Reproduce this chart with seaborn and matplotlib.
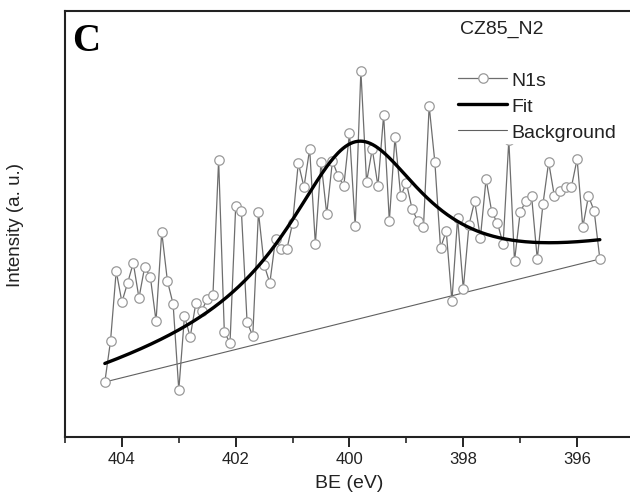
import numpy as np
import matplotlib
matplotlib.use("Agg")
import matplotlib.pyplot as plt
import seaborn as sns
from matplotlib.ticker import MultipleLocator

sns.set_theme(style="white")
plt.rcParams['font.family'] = ['Liberation Sans', 'DejaVu Sans']

# ---- data (binding energy grid, eV) ----
be = [404.3, 404.2, 404.1, 404.0, 403.9, 403.8, 403.7, 403.6, 403.5, 403.4,
      403.3, 403.2, 403.1, 403.0, 402.9, 402.8, 402.7, 402.6, 402.5, 402.4,
      402.3, 402.2, 402.1, 402.0, 401.9, 401.8, 401.7, 401.6, 401.5, 401.4,
      401.3, 401.2, 401.1, 401.0, 400.9, 400.8, 400.7, 400.6, 400.5, 400.4,
      400.3, 400.2, 400.1, 400.0, 399.9, 399.8, 399.7, 399.6, 399.5, 399.4,
      399.3, 399.2, 399.1, 399.0, 398.9, 398.8, 398.7, 398.6, 398.5, 398.4,
      398.3, 398.2, 398.1, 398.0, 397.9, 397.8, 397.7, 397.6, 397.5, 397.4,
      397.3, 397.2, 397.1, 397.0, 396.9, 396.8, 396.7, 396.6, 396.5, 396.4,
      396.3, 396.2, 396.1, 396.0, 395.9, 395.8, 395.7, 395.6]

# N1s intensity (arbitrary units)
n1s = [55, 96, 166, 135, 154, 174, 139, 170, 160, 116,
       205, 156, 133, 47, 121, 100, 134, 126, 138, 142,
       277, 105, 94, 231, 226, 115, 101, 225, 172, 154,
       198, 188, 188, 214, 274, 250, 288, 193, 275, 223,
       276, 261, 251, 304, 211, 366, 255, 288, 251, 322,
       216, 300, 241, 254, 228, 216, 210, 331, 275, 189,
       206, 136, 219, 148, 212, 236, 199, 258, 225, 214,
       193, 297, 176, 225, 236, 241, 178, 233, 275, 241,
       246, 250, 250, 278, 210, 241, 226, 178]

# Linear background end points
bg_x = [404.3, 395.6]
bg_y = [55, 178]

# Fitted N1s component (Lorentzian) parameters
fit_center = 399.9
fit_fwhm = 3.0
fit_height = 178

# ---- figure ----
fig = plt.figure(figsize=(6.3, 5.02), dpi=100)
ax = fig.add_axes([65/630, 64/502, 569/630, 426/502])

# data
sns.lineplot(x=be, y=n1s, ax=ax, sort=False, color='#6e6e6e', lw=0.9,
             marker='o', markersize=6.8, markerfacecolor='white',
             markeredgecolor='#9a9a9a', markeredgewidth=0.9, label='N1s',
             zorder=2)

# fit = background + Lorentzian
fx = np.linspace(bg_x[0], bg_x[1], 400)
fbg = np.interp(fx, bg_x[::-1], bg_y[::-1])
fy = fbg + fit_height / (1 + ((fx - fit_center) / (fit_fwhm / 2)) ** 2)
sns.lineplot(x=fx, y=fy, ax=ax, sort=False, color='black', lw=2.4,
             label='Fit', zorder=3)

# background
sns.lineplot(x=bg_x, y=bg_y, ax=ax, sort=False, color='#606060', lw=0.8,
             label='Background', zorder=1)

ax.set_xlim(405, 395)
ax.set_ylim(0, 426)
ax.xaxis.set_major_locator(MultipleLocator(2))
ax.xaxis.set_minor_locator(MultipleLocator(1))
ax.set_xticks([404, 402, 400, 398, 396])
ax.tick_params(axis='x', which='major', direction='out', length=7, width=1.2,
               labelsize=12, pad=3, bottom=True, colors='black')
ax.tick_params(axis='x', which='minor', direction='out', length=4, width=1.2,
               bottom=True)
ax.tick_params(axis='x', labelcolor='#222222')
ax.set_yticks([])

for s in ['left', 'bottom', 'top', 'right']:
    ax.spines[s].set_color('#222222')
    ax.spines[s].set_linewidth(1.5)

ax.set_xlabel('BE (eV)', fontsize=14, color='#222222', labelpad=6)
ax.set_ylabel('Intensity (a. u.)', fontsize=13.5, color='#222222')
ax.yaxis.set_label_coords(-0.072, 0.5)

ax.text(0.012, 0.975, 'C', transform=ax.transAxes, ha='left', va='top',
        fontsize=28, fontweight='bold', family='Liberation Serif', color='black')
ax.text(0.694, 0.958, 'CZ85_N2', transform=ax.transAxes, ha='left', va='center',
        fontsize=14, color='#222222')

leg = ax.legend(loc='upper left', bbox_to_anchor=(0.688, 0.863), frameon=True,
                facecolor='white', edgecolor='white', framealpha=1,
                fontsize=14, handlelength=2.5, handletextpad=0.2,
                labelspacing=0.43, borderpad=0.1, borderaxespad=0)
leg.set_zorder(5)
for t in leg.get_texts():
    t.set_color('#222222')

fig.savefig('out.png', dpi=100)
